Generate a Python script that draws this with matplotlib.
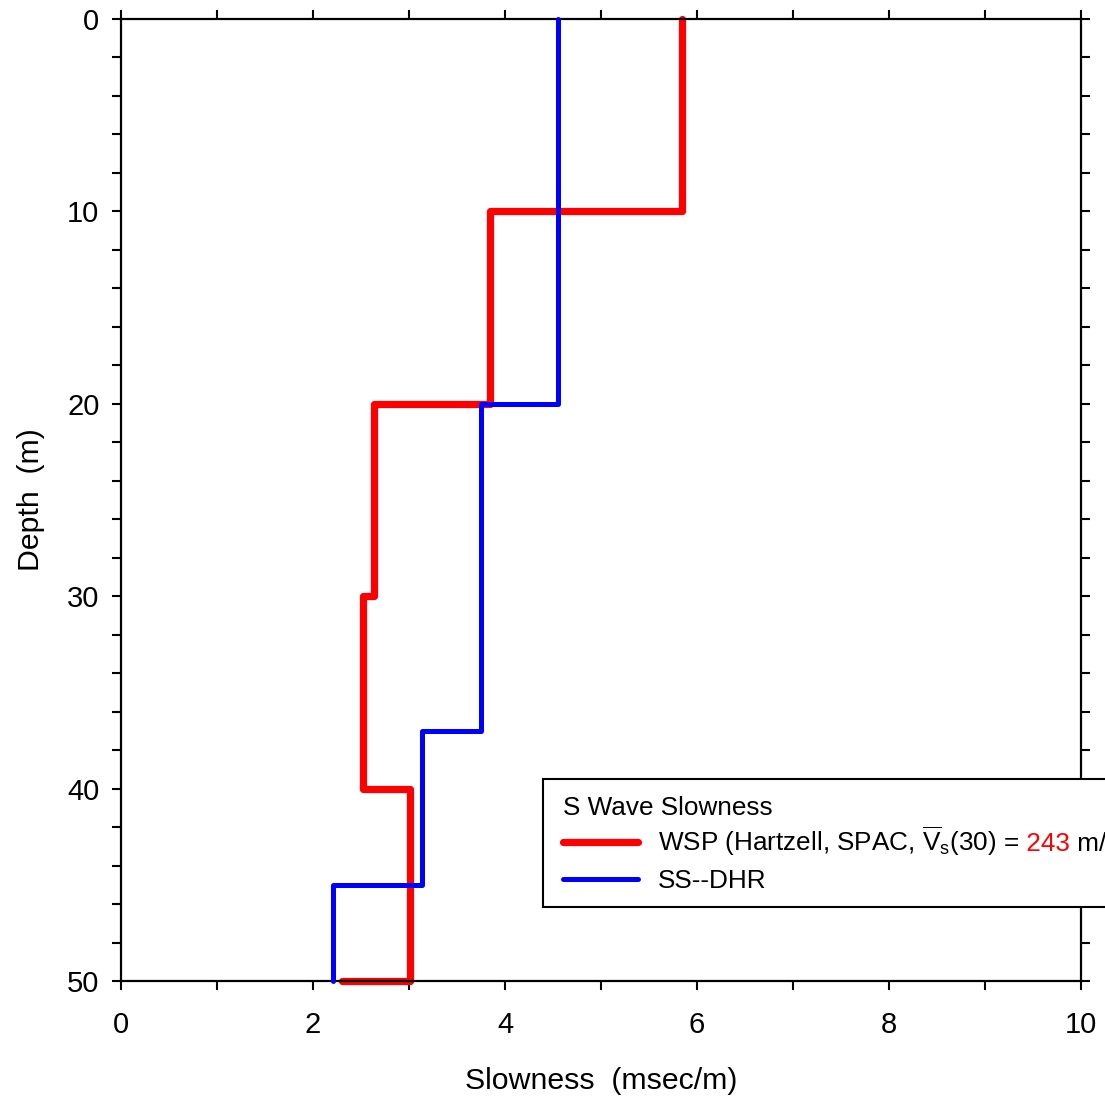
import numpy as np
import matplotlib
matplotlib.use("Agg")
import matplotlib.pyplot as plt
from matplotlib.patches import Rectangle
from matplotlib.ticker import MultipleLocator

plt.rcParams['font.family'] = ['Liberation Sans', 'DejaVu Sans']
plt.rcParams['mathtext.fontset'] = 'custom'
plt.rcParams['mathtext.rm'] = 'Liberation Sans'
plt.rcParams['mathtext.it'] = 'Liberation Sans'

# ---- data ----
wsp_depth = [0, 10, 20, 30, 40, 50]          # layer boundaries (m)
wsp_slowness = [5.84, 3.84, 2.64, 2.52, 3.01]  # msec/m per layer
wsp_halfspace = 2.30
dhr_depth = [0, 20, 37, 45, 50]
dhr_slowness = [4.55, 3.75, 3.14, 2.21]
vs30 = " 243"
legend_title = "S Wave Slowness"
label_wsp_pre = r"WSP (Hartzell, SPAC, $\overline{\mathrm{V}}_\mathrm{s}$(30) ="
label_wsp_post = " m/s)"
label_dhr = "SS--DHR"


def profile(depths, slow):
    xs, ys = [], []
    for i, s in enumerate(slow):
        xs += [s, s]
        ys += [depths[i], depths[i + 1]]
    return xs, ys


W, H = 1105, 1099
fig = plt.figure(figsize=(W / 100, H / 100), dpi=100)
ax = fig.add_axes([121 / W, 1 - 981 / H, 960 / W, 962 / H])

rx, ry = profile(wsp_depth, wsp_slowness)
rx.append(wsp_halfspace)
ry.append(wsp_depth[-1])
bx, by = profile(dhr_depth, dhr_slowness)

ax.plot(bx, by, color='#0000ff', lw=3.6, solid_joinstyle='round',
        solid_capstyle='round', clip_on=False, zorder=3)
ax.plot(rx, ry, color='#ff0000', lw=5.2, solid_joinstyle='round',
        solid_capstyle='round', clip_on=False, zorder=2)

ax.set_xlim(0, 10)
ax.set_ylim(50, 0)
ax.xaxis.set_major_locator(MultipleLocator(2))
ax.xaxis.set_minor_locator(MultipleLocator(1))
ax.yaxis.set_major_locator(MultipleLocator(10))
ax.yaxis.set_minor_locator(MultipleLocator(2))
ax.tick_params(which='both', direction='out', length=6.5, width=1.5,
               top=True, right=True, labelsize=21, color='black')
ax.tick_params(axis='x', which='major', pad=15)
ax.tick_params(axis='y', which='major', pad=9)
for sp in ax.spines.values():
    sp.set_linewidth(1.6)
ax.set_xlabel("Slowness  (msec/m)", fontsize=21.8, labelpad=20)
ax.set_ylabel("Depth  (m)", fontsize=21.8, labelpad=16)


def fx(px):
    return px / W


def fy(py):
    return 1 - py / H


# legend box (extends past figure edge as in reference)
fig.patches.append(Rectangle((fx(543), fy(907)), fx(700), 128 / H,
                             transform=fig.transFigure, facecolor='white',
                             edgecolor='black', lw=1.5, zorder=5))
fig.text(fx(563), fy(808), legend_title, fontsize=18.8, va='center',
         ha='left', zorder=6)
fig.add_artist(plt.Line2D([fx(563), fx(638)], [fy(842), fy(842)], color='#ff0000',
                          lw=5.2, solid_capstyle='round',
                          transform=fig.transFigure, zorder=6))
fig.add_artist(plt.Line2D([fx(563), fx(638)], [fy(879), fy(879)], color='#0000ff',
                          lw=3.6, solid_capstyle='round',
                          transform=fig.transFigure, zorder=6))
base1 = fy(851)
t1 = fig.text(fx(658), base1, label_wsp_pre, fontsize=18.8, va='baseline',
              ha='left', zorder=6)
fig.canvas.draw()
r = fig.canvas.get_renderer()
e1 = t1.get_window_extent(r)
t2 = fig.text(e1.x1 / W, base1, vs30, fontsize=18.8, va='baseline', ha='left',
              color='#ff0000', zorder=6)
e2 = t2.get_window_extent(r)
fig.text(e2.x1 / W, base1, label_wsp_post, fontsize=18.8, va='baseline',
         ha='left', zorder=6)
fig.text(fx(658), fy(888), label_dhr, fontsize=18.8, va='baseline', ha='left',
         zorder=6)

fig.savefig("out.png", dpi=100)
